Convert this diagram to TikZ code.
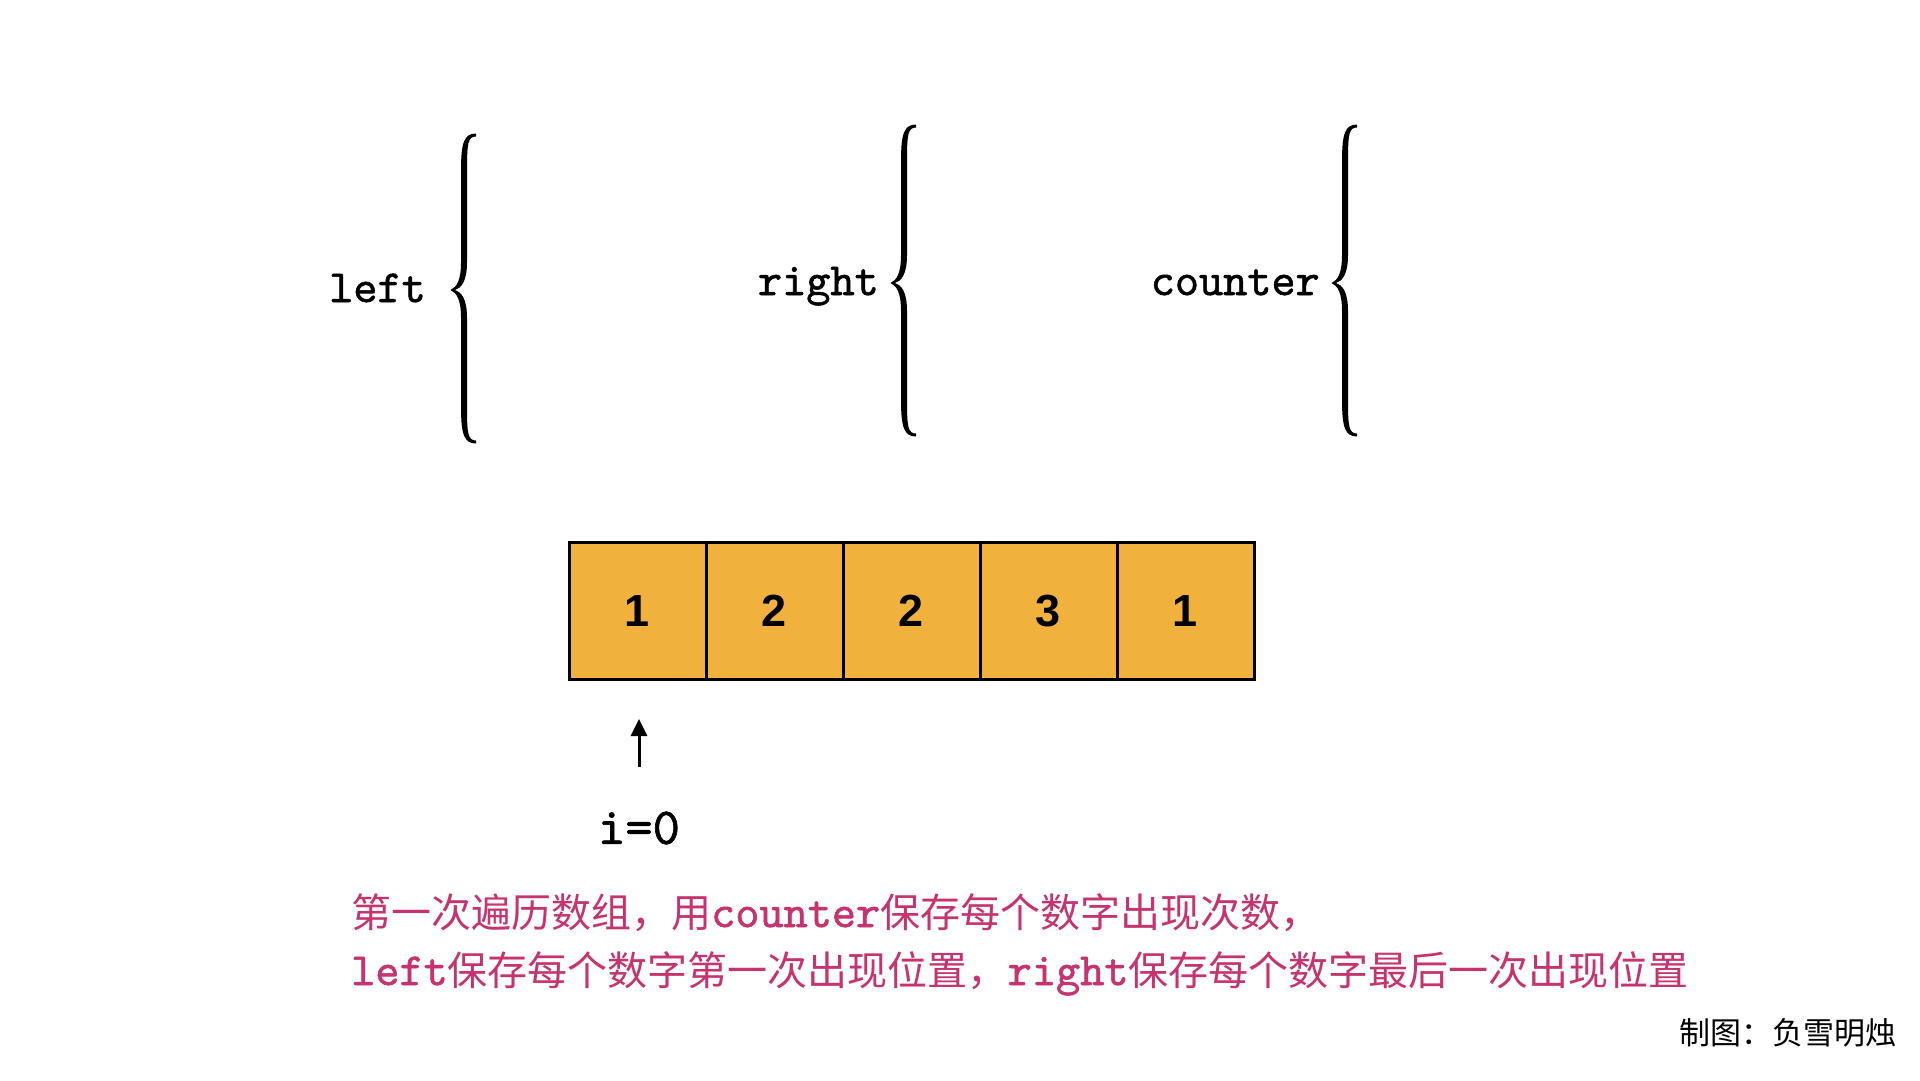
\documentclass[tikz,border=0pt]{standalone}
\usepackage{fontspec}
\usetikzlibrary{arrows.meta}
\newfontfamily\cjk{Noto Sans CJK SC}
\newfontfamily\numfont{Liberation Sans}
\newfontfamily\mono{lmmono10-regular.otf}[FakeBold=1.2]
\definecolor{cellfill}{HTML}{F1B13D}
\definecolor{pinktext}{HTML}{C7336E}
\newcommand\drawbrace[4]{% right x, top, mid, bottom
  \fill[black]
    (#1,#2-1.5) .. controls (#1-12,#2-1.5) and (#1-15,#2+8) .. (#1-15,#2+35)
    -- (#1-15,#3-28)
    .. controls (#1-15,#3-10) and (#1-19,#3-3) .. (#1-25.5,#3)
    .. controls (#1-19,#3+3) and (#1-15,#3+10) .. (#1-15,#3+28)
    -- (#1-15,#4-35)
    .. controls (#1-15,#4-8) and (#1-12,#4+1.5) .. (#1,#4+1.5)
    -- (#1,#4-1.5)
    .. controls (#1-8,#4-1.5) and (#1-9,#4-8) .. (#1-9,#4-35)
    -- (#1-9,#3+28)
    .. controls (#1-9,#3+8) and (#1-15,#3+2) .. (#1-21,#3)
    .. controls (#1-15,#3-2) and (#1-9,#3-8) .. (#1-9,#3-28)
    -- (#1-9,#2+35)
    .. controls (#1-9,#2+8) and (#1-8,#2+1.5) .. (#1,#2+1.5)
    -- cycle;}
\begin{document}
\begin{tikzpicture}[x=1pt,y=-1pt,
  cell/.style={draw=black, line width=3pt, fill=cellfill, minimum size=137pt,
    inner sep=0pt, font=\numfont\bfseries\fontsize{45}{54}\selectfont},
  varlabel/.style={anchor=base east, inner sep=0pt, font=\mono\fontsize{46}{55}\selectfont},
  note/.style={anchor=base west, inner sep=0pt, text=pinktext, font=\cjk\fontsize{40}{48}\selectfont}]
\fill[white] (0,0) rectangle (1920,1080);
\useasboundingbox (0,0) rectangle (1920,1080);

% braces and labels
\node[varlabel] (lleft) at (426,302) {left};
\drawbrace{476}{135}{290}{442}
\node[varlabel] (lright) at (879,295) {right};
\drawbrace{916}{126}{283}{435}
\node[varlabel] (lcounter) at (1320,295) {counter};
\drawbrace{1357}{126}{283}{435}

% array
\node[cell] (c1) at (637.5,611) {1};
\node[cell] (c2) at (774.5,611) {2};
\node[cell] (c3) at (911.5,611) {2};
\node[cell] (c4) at (1048.5,611) {3};
\node[cell] (c5) at (1185.5,611) {1};

% pointer
\coordinate (ptail) at (639,767);
\coordinate (phead) at (639,719);
\draw[line width=3pt, -{Triangle[length=17pt,width=16pt]}] (ptail) -- (phead);
\node[inner sep=0pt, font=\mono\fontsize{52}{62}\selectfont] (ilabel) at (639,828) {i=0};

% notes
\newcommand\nm[1]{{\mono\fontsize{46}{48}\selectfont #1}}
\node[note] (line1) at (351,927) {第一次遍历数组，用\nm{counter}保存每个数字出现次数，};
\node[note] (line2) at (351,985) {\nm{left}保存每个数字第一次出现位置，\nm{right}保存每个数字最后一次出现位置};

\node[anchor=base east, inner sep=0pt, font=\cjk\fontsize{31}{37}\selectfont] (credit) at (1897,1044) {制图：负雪明烛};
\end{tikzpicture}
\end{document}
